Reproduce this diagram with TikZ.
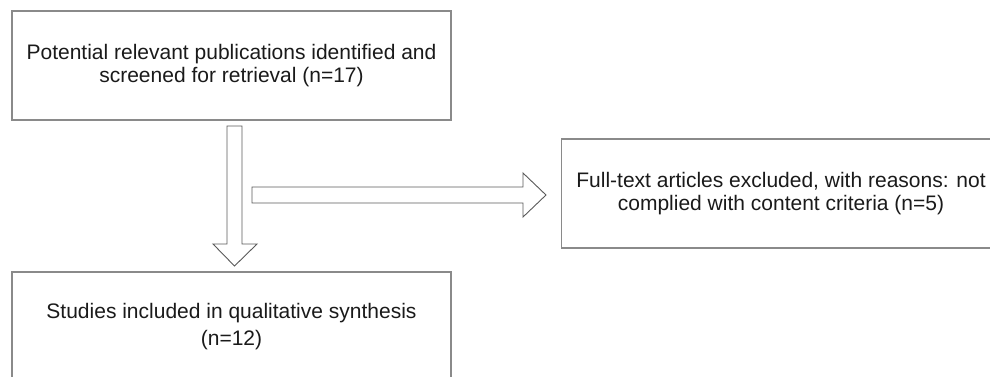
\documentclass[tikz,border=0pt]{standalone}
\usepackage{fontspec}
\setmainfont{Liberation Sans}
\definecolor{boxline}{HTML}{8A8A8A}
\definecolor{arrline}{HTML}{5A5A5A}
\definecolor{txt}{HTML}{1A1A1A}
\tikzset{
  flowbox/.style={draw=boxline, line width=1.4pt, minimum width=439pt, minimum height=109pt,
    align=center, text=txt, inner sep=0pt, font=\fontsize{21}{23}\selectfont},
  hollowarrow/.style={draw=arrline, line width=0.9pt, fill=white, line join=miter}
}
\begin{document}
\begin{tikzpicture}[x=1pt,y=-1pt]
\useasboundingbox (0,0) rectangle (990,376);
\node[flowbox] (top) at (231.5,65.5) {Potential relevant publications identified and\\screened for retrieval (n=17)};
\node[flowbox] (right) at (781,193.5) {Full-text articles excluded, with reasons: not\\complied with content criteria (n=5)};
\node[flowbox, font=\fontsize{21}{27}\selectfont] (bottom) at (231.5,326.5) {Studies included in qualitative synthesis\\(n=12)};
% down arrow
\coordinate (dtop) at (234.5,126);
\coordinate (dtip) at (234.5,266);
\draw[hollowarrow] ([xshift=-7.5pt]dtop) -- ([xshift=7.5pt]dtop) -- (242,244) -- (257,244) -- (dtip) -- (213,244) -- (227,244) -- cycle;
% right arrow
\coordinate (rstart) at (252,195);
\coordinate (rtip) at (546,195);
\draw[hollowarrow] ([yshift=8pt]rstart) -- (523,187) -- (523,173) -- (rtip) -- (523,217) -- (523,203) -- ([yshift=-8pt]rstart) -- cycle;
\end{tikzpicture}
\end{document}
